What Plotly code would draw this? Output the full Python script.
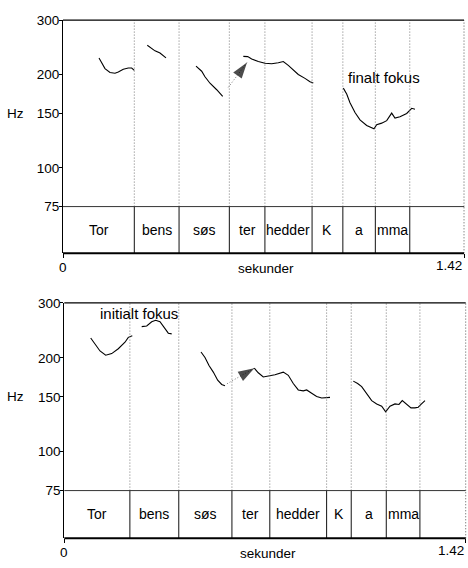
import math
import plotly.graph_objects as go

# ---------------- data ----------------
T_MAX = 1.42
y_ticks = [75, 100, 150, 200, 300]
y_tick_labels = ["75", "100", "150", "200", "300"]

# Top panel (finalt fokus)
top_words = ["Tor", "bens", "søs", "ter", "hedder", "K", "a", "mma", ""]
top_bounds = [0, 0.2525, 0.411, 0.589, 0.715, 0.882, 0.991, 1.106, 1.228, 1.42]

top_tor_t = [0.1275, 0.137, 0.1487, 0.1664, 0.1841, 0.1958, 0.2135, 0.2312, 0.2433, 0.2525]
top_tor_hz = [226.5, 218.5, 209.2, 203.2, 202.2, 204.1, 208.1, 210.1, 210.1, 206.6]
top_bens_t = [0.2985, 0.3141, 0.3258, 0.3435, 0.3647]
top_bens_hz = [248.9, 242.8, 238.8, 234.9, 226.5]
top_sos_t = [0.471, 0.4911, 0.5028, 0.5205, 0.5443, 0.5655]
top_sos_hz = [213.2, 205.2, 196.9, 187.7, 178.8, 170.3]
top_ter_t = [0.6385, 0.654, 0.6682, 0.6916, 0.7153, 0.739, 0.7624, 0.7801, 0.7978,
             0.8155, 0.8332, 0.8569, 0.8746, 0.8863]
top_ter_hz = [229.2, 228.7, 224.9, 220.6, 217.8, 216.9, 218.5, 220.6, 214.3,
              206.6, 200.3, 194.6, 189.9, 188.1]
top_fin_t = [0.9926, 1.0046, 1.0163, 1.034, 1.0517, 1.0754, 1.1013, 1.1108, 1.1285,
             1.1463, 1.1639, 1.1756, 1.1933, 1.2171, 1.2348, 1.2465]
top_fin_hz = [181.0, 173.3, 162.4, 151.0, 142.9, 137.1, 133.8, 137.8, 139.5,
              142.1, 150.3, 144.9, 146.3, 149.9, 155.8, 154.7]
top_arrow_t = [0.5853, 0.6516]
top_arrow_hz = [182.0, 219.0]
top_note = ("finalt fokus", 1.138, 196.0)

# Bottom panel (initialt fokus)
bot_words = ["Tor", "bens", "søs", "ter", "hedder", "K", "a", "mma", ""]
bot_bounds = [0, 0.232, 0.405, 0.593, 0.727, 0.928, 1.015, 1.139, 1.258, 1.42]

bot_tor_t = [0.0934, 0.1086, 0.1263, 0.1464, 0.1677, 0.191, 0.2147, 0.2264, 0.2405]
bot_tor_hz = [231.5, 220.7, 210.4, 203.9, 206.4, 213.9, 224.5, 232.7, 235.4]
bot_bens_t = [0.2738, 0.2915, 0.3092, 0.3233, 0.3385, 0.3562, 0.3679, 0.3799]
bot_bens_hz = [251.9, 253.0, 261.1, 264.1, 261.1, 248.8, 240.0, 238.8]
bot_sos_t = [0.4836, 0.4977, 0.5119, 0.5271, 0.5426, 0.5568, 0.5684]
bot_sos_hz = [208.9, 200.5, 188.9, 180.0, 169.6, 164.3, 162.8]
bot_ter_t = [0.6721, 0.6862, 0.7039, 0.7216, 0.7453, 0.7747, 0.7924, 0.81, 0.8277,
             0.8454, 0.8574, 0.8751, 0.8928, 0.9105, 0.9282, 0.9399]
bot_ter_hz = [185.3, 179.1, 173.7, 174.9, 176.5, 180.0, 175.8, 165.5, 157.8,
              156.7, 157.8, 154.0, 150.4, 148.6, 148.6, 149.3]
bot_fin_t = [1.0223, 1.0378, 1.052, 1.0697, 1.0874, 1.1051, 1.1228, 1.1369, 1.1521,
             1.1698, 1.1839, 1.1956, 1.2112, 1.2264, 1.2405, 1.2522, 1.2618, 1.2759]
bot_fin_hz = [168.4, 165.5, 161.6, 154.0, 145.8, 142.3, 139.9, 134.3, 139.9,
              142.3, 141.7, 145.8, 141.7, 138.2, 138.2, 138.9, 141.7, 145.8]
bot_arrow_t = [0.5755, 0.6721]
bot_arrow_hz = [165.1, 185.3]
bot_note = ("initialt fokus", 0.2625, 277.2)

# ---------------- layout geometry ----------------
W, H = 468, 568
FONT = "Liberation Sans, Arial, sans-serif"

panels = [
    dict(words=top_words, bounds=top_bounds,
         curves=[(top_tor_t, top_tor_hz), (top_bens_t, top_bens_hz), (top_sos_t, top_sos_hz),
                 (top_ter_t, top_ter_hz), (top_fin_t, top_fin_hz)],
         arrow=(top_arrow_t, top_arrow_hz), note=top_note,
         xdom=[63 / W, 464 / W], pitch=[1 - 205 / H, 1 - 13.5 / H], tier=[1 - 253 / H, 1 - 205 / H]),
    dict(words=bot_words, bounds=bot_bounds,
         curves=[(bot_tor_t, bot_tor_hz), (bot_bens_t, bot_bens_hz), (bot_sos_t, bot_sos_hz),
                 (bot_ter_t, bot_ter_hz), (bot_fin_t, bot_fin_hz)],
         arrow=(bot_arrow_t, bot_arrow_hz), note=bot_note,
         xdom=[64.3 / W, 465.7 / W], pitch=[1 - 496.7 / H, 1 - 304 / H], tier=[1 - 545.7 / H, 1 - 496.7 / H]),
]

fig = go.Figure()
shapes = []
annotations = []
layout_axes = {}

for i, p in enumerate(panels):
    xa = "x" if i == 0 else "x2"
    ya_p = "y" if i == 0 else "y3"
    ya_t = "y2" if i == 0 else "y4"
    xname = "xaxis" if i == 0 else "xaxis2"
    ypname = "yaxis" if i == 0 else "yaxis3"
    ytname = "yaxis2" if i == 0 else "yaxis4"

    layout_axes[xname] = dict(domain=p["xdom"], range=[0, T_MAX], anchor=ya_t,
                              showgrid=False, zeroline=False, showline=False,
                              tickvals=[0, T_MAX], ticks="outside", ticklen=4,
                              tickcolor="black", showticklabels=False, fixedrange=True)
    layout_axes[ypname] = dict(domain=p["pitch"], type="log",
                               range=[math.log10(75), math.log10(300)], anchor=xa,
                               showgrid=False, zeroline=False, showline=True,
                               linecolor="black", linewidth=1,
                               tickvals=y_ticks, ticktext=y_tick_labels,
                               ticks="outside", ticklen=3, tickcolor="black",
                               tickfont=dict(family=FONT, size=13.5, color="black"),
                               ticklabelstandoff=-3)
    layout_axes[ytname] = dict(domain=p["tier"], range=[0, 1], anchor=xa,
                               showgrid=False, zeroline=False, showline=True,
                               linecolor="black", linewidth=1,
                               showticklabels=False, ticks="")

    # pitch contours
    for t, hz in p["curves"]:
        fig.add_trace(go.Scatter(x=t, y=hz, mode="lines", xaxis=xa, yaxis=ya_p,
                                 line=dict(color="black", width=1.1), hoverinfo="skip",
                                 showlegend=False))
    # dotted arrow with filled arrowhead at its end
    at, ahz = p["arrow"]
    fig.add_trace(go.Scatter(x=at, y=ahz, mode="lines", xaxis=xa, yaxis=ya_p,
                             line=dict(color="#777777", width=1, dash="1px,2px"),
                             hoverinfo="skip", showlegend=False))
    fig.add_trace(go.Scatter(x=at, y=ahz, mode="markers", xaxis=xa, yaxis=ya_p,
                             marker=dict(symbol="arrow", size=[0, 17], color="black",
                                         angleref="previous", line=dict(width=0)),
                             hoverinfo="skip", showlegend=False))

    # boundaries
    xref_dom = xa + " domain"
    for b in p["bounds"][1:-1]:
        shapes.append(dict(type="line", xref=xa, yref=ya_p + " domain", x0=b, x1=b, y0=0, y1=1,
                           line=dict(color="#777777", width=1, dash="1px,2px")))
        shapes.append(dict(type="line", xref=xa, yref=ya_t + " domain", x0=b, x1=b, y0=0, y1=1,
                           line=dict(color="#111111", width=1)))
    # right dotted edge
    shapes.append(dict(type="line", xref=xref_dom, yref=ya_t + " domain", x0=1, x1=1, y0=0, y1=1,
                       line=dict(color="#555555", width=1, dash="1px,2px")))
    shapes.append(dict(type="line", xref=xref_dom, yref=ya_p + " domain", x0=1, x1=1, y0=0, y1=1,
                       line=dict(color="#555555", width=1, dash="1px,2px")))
    # top border
    shapes.append(dict(type="line", xref=xref_dom, yref=ya_p + " domain", x0=0, x1=1, y0=1, y1=1,
                       line=dict(color="black", width=1.3)))
    # 75 line (tier top)
    shapes.append(dict(type="line", xref=xref_dom, yref=ya_t + " domain", x0=0, x1=1, y0=1, y1=1,
                       line=dict(color="#333333", width=1)))
    # tier bottom
    shapes.append(dict(type="line", xref=xref_dom, yref=ya_t + " domain", x0=0, x1=1, y0=0, y1=0,
                       line=dict(color="black", width=2)))

    # tier labels
    for k, w in enumerate(p["words"]):
        if not w:
            continue
        mid = (p["bounds"][k] + p["bounds"][k + 1]) / 2
        annotations.append(dict(x=mid, y=0.5, xref=xa, yref=ya_t, text=w, showarrow=False,
                                font=dict(family=FONT, size=14, color="black")))
    # focus note
    txt, nt, nhz = p["note"]
    annotations.append(dict(x=nt, y=math.log10(nhz), xref=xa, yref=ya_p, text=txt,
                            showarrow=False, font=dict(family=FONT, size=15, color="black")))
    # Hz label
    annotations.append(dict(x=15.5 / W, y=math.log10(150), xref="paper", yref=ya_p, text="Hz",
                            xanchor="center", showarrow=False,
                            font=dict(family=FONT, size=13.5, color="black")))
    # x labels
    ybot = p["tier"][0]
    annotations.append(dict(x=0, y=ybot, xref=xa, yref="paper", text="0", showarrow=False,
                            xanchor="center", yanchor="top", yshift=-5,
                            font=dict(family=FONT, size=13.5, color="black")))
    annotations.append(dict(x=T_MAX, y=ybot, xref=xa, yref="paper", text="1.42", showarrow=False,
                            xanchor="right", yanchor="top", yshift=-3,
                            font=dict(family=FONT, size=13.5, color="black")))
    annotations.append(dict(x=0.72, y=ybot, xref=xa, yref="paper", text="sekunder", showarrow=False,
                            xanchor="center", yanchor="top", yshift=-6,
                            font=dict(family=FONT, size=13.5, color="black")))

fig.update_layout(width=W, height=H, margin=dict(l=0, r=0, t=0, b=0),
                  paper_bgcolor="white", plot_bgcolor="white", showlegend=False,
                  shapes=shapes, annotations=annotations,
                  font=dict(family=FONT, size=13.5, color="black"), **layout_axes)

fig.write_html("out.html")
